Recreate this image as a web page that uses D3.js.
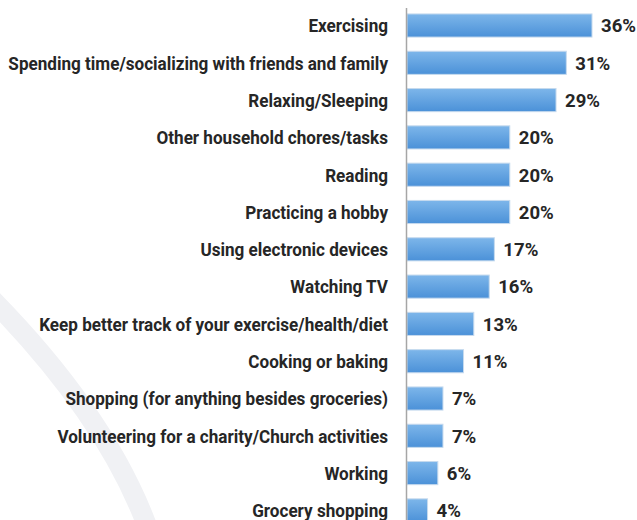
<!DOCTYPE html>
<html><head><meta charset="utf-8">
<script src="https://cdn.jsdelivr.net/npm/d3@7"></script>
<style>
html,body{margin:0;padding:0;background:#fff;}
svg{display:block;}
text{font-family:Roboto,"Liberation Sans",sans-serif;font-weight:700;fill:#262626;}
</style></head>
<body>
<svg id="chart" width="637" height="520"></svg>
<script>
const categories = [
  "Exercising",
  "Spending time/socializing with friends and family",
  "Relaxing/Sleeping",
  "Other household chores/tasks",
  "Reading",
  "Practicing a hobby",
  "Using electronic devices",
  "Watching TV",
  "Keep better track of your exercise/health/diet",
  "Cooking or baking",
  "Shopping (for anything besides groceries)",
  "Volunteering for a charity/Church activities",
  "Working",
  "Grocery shopping"
];
const values = [36, 31, 29, 20, 20, 20, 17, 16, 13, 11, 7, 7, 6, 4];
const valueLabels = values.map(v => v + "%");

const svg = d3.select("#chart");
const W = 637, H = 520;
const axisX = 407;

// decorative background arc
svg.append("path")
  .attr("d", "M -40 268 Q 108 408 152 540")
  .attr("fill", "none")
  .attr("stroke", "#f0f1f4")
  .attr("stroke-width", 20);

const defs = svg.append("defs");
const grad = defs.append("linearGradient").attr("id", "barGrad")
  .attr("x1", 0).attr("y1", 0).attr("x2", 0).attr("y2", 1);
grad.append("stop").attr("offset", "0%").attr("stop-color", "#7db6ea");
grad.append("stop").attr("offset", "100%").attr("stop-color", "#4b91d8");

const x = d3.scaleLinear().domain([0, 36]).range([0, 185]);
const step = 37.3;
const y = d3.scaleBand().domain(categories)
  .range([0, categories.length * step])
  .paddingInner(0.38).paddingOuter(0.19);

const g = svg.append("g").attr("transform", `translate(${axisX},6.85)`);

g.selectAll("rect.bar").data(categories).join("rect")
  .attr("class", "bar")
  .attr("x", 0)
  .attr("y", d => y(d))
  .attr("width", (d, i) => x(values[i]))
  .attr("height", y.bandwidth())
  .attr("fill", "url(#barGrad)")
  .attr("stroke", "#c6daee")
  .attr("stroke-width", 1);

const fs = 19;
const cats = g.selectAll("text.cat").data(categories).join("text")
  .attr("class", "cat")
  .attr("dy", "0.36em")
  .attr("text-anchor", "end")
  .attr("font-size", fs)
  .text(d => d);

// condense horizontally so the longest label spans ~380px
let maxW = 0;
cats.each(function () { maxW = Math.max(maxW, this.getComputedTextLength()); });
const k = 380 / maxW;
cats.attr("transform", d => `translate(-19,${y(d) + y.bandwidth() / 2}) scale(${k},1)`);

const vals = g.selectAll("text.val").data(categories).join("text")
  .attr("class", "val")
  .attr("dy", "0.36em")
  .attr("font-size", fs)
  .text((d, i) => valueLabels[i]);
// value label "36%" spans ~35px in the reference
let w36 = 0;
vals.each(function (d, i) { if (i === 0) w36 = this.getComputedTextLength(); });
const kv = Math.min(1, 35 / w36);
vals.attr("transform", (d, i) => `translate(${x(values[i]) + 9},${y(d) + y.bandwidth() / 2}) scale(${kv},1)`);

// axis line
svg.append("line")
  .attr("x1", axisX - 0.5).attr("x2", axisX - 0.5)
  .attr("y1", 8).attr("y2", H)
  .attr("stroke", "#a6a6a6").attr("stroke-width", 1.5);
</script>
</body></html>
